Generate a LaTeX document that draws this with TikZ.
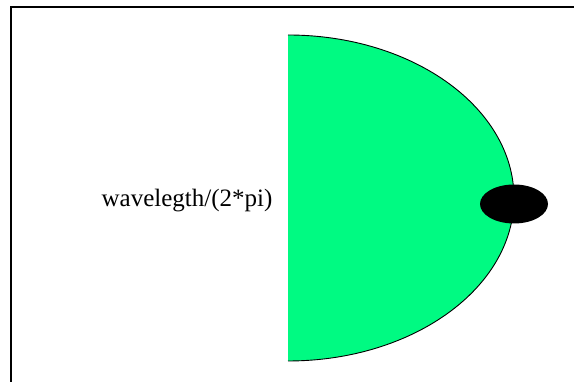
\documentclass[tikz,border=0pt]{standalone}
\usepackage{fontspec}
\setmainfont{Liberation Serif}
\definecolor{halfgreen}{RGB}{0,250,130}
\tikzset{
  frameline/.style={line width=2pt, black},
  outline/.style={line width=0.9pt, black},
}
\begin{document}
\begin{tikzpicture}[x=1pt,y=1pt]
\useasboundingbox (0,0) rectangle (574,382);
% frame (top and left only)
\coordinate (ftr) at (574,375);
\coordinate (ftl) at (11,375);
\coordinate (fbl) at (11,0);
\draw[frameline] (ftr) -- (ftl) -- (fbl);
% green half ellipse
\coordinate (top) at (288,347);
\fill[halfgreen] (top) arc[start angle=90, end angle=-90, x radius=226, y radius=163] -- cycle;
\draw[outline] (top) arc[start angle=90, end angle=-90, x radius=226, y radius=163];
% black ellipse
\fill[black] (514,178) ellipse[x radius=34, y radius=19.5];
% label
\node[font=\fontsize{25}{27}\selectfont, inner sep=0pt] (lbl) at (187,181) {wavelegth/(2*pi)};
\end{tikzpicture}
\end{document}
